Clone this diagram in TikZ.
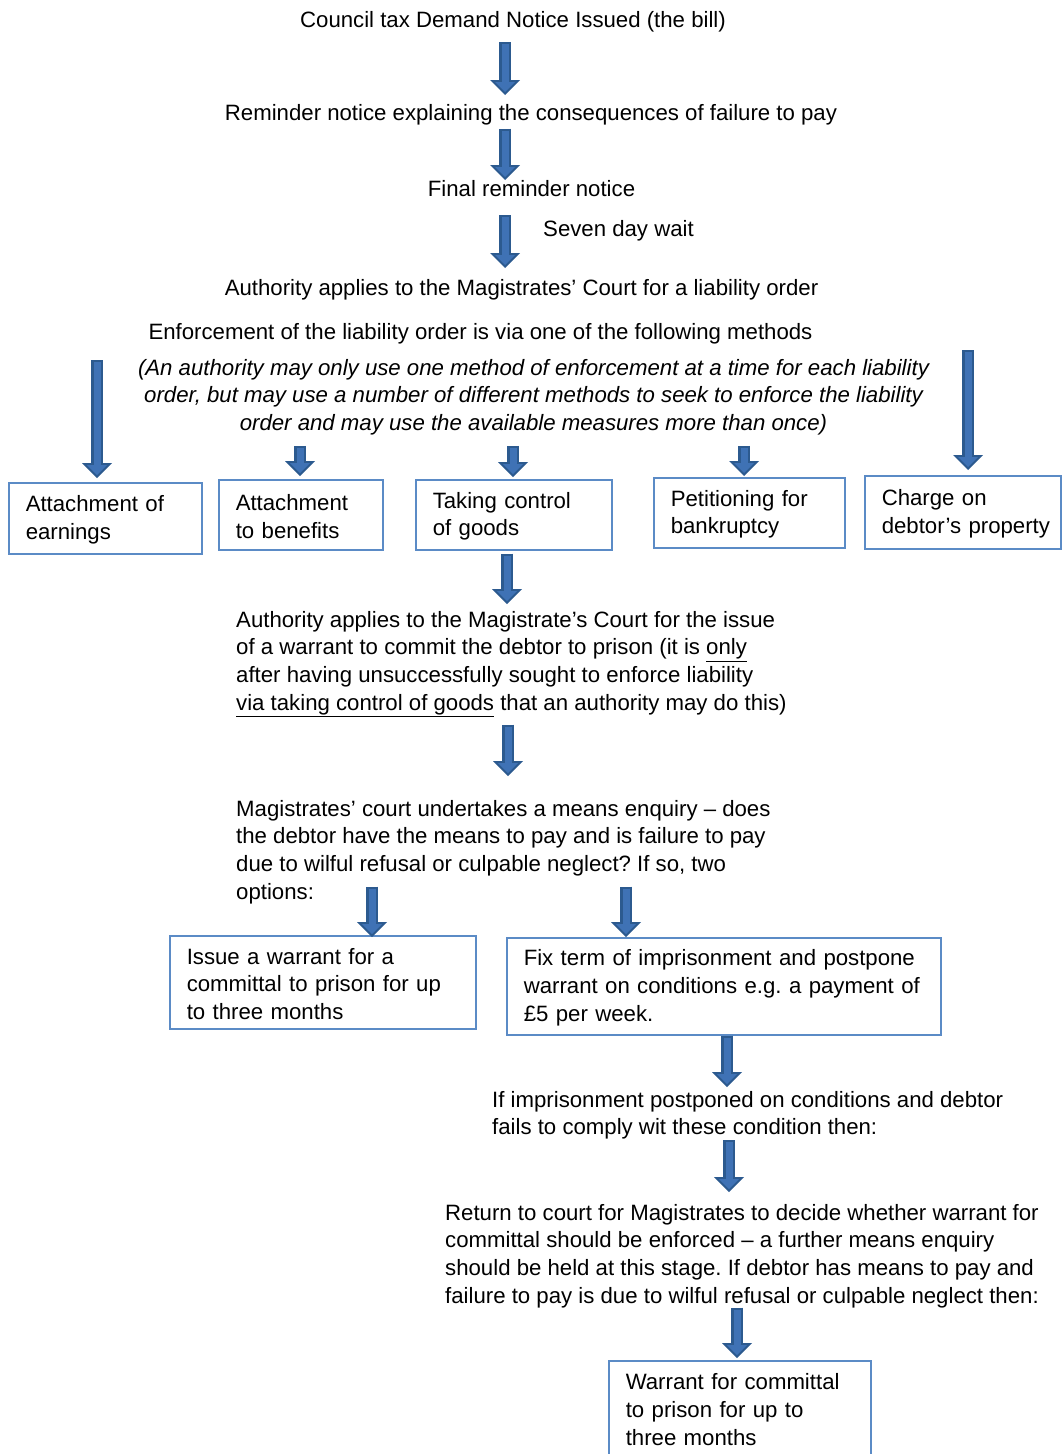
\documentclass[tikz,border=0pt]{standalone}
\usepackage{fontspec}
\setmainfont{Liberation Sans}
\usetikzlibrary{arrows.meta}
\frenchspacing

\definecolor{arrowfill}{HTML}{3F72B5}
\definecolor{arrowedge}{HTML}{2C5A8F}
\definecolor{boxedge}{HTML}{5B8BC6}

\newcommand{\mainfs}{\fontsize{22.2}{27.7}\selectfont}

\tikzset{
  txt/.style={inner sep=0pt, font=\mainfs},
  para/.style={txt, anchor=north west, align=left},
  box/.style={draw=boxedge, line width=1.5pt, anchor=north west, inner xsep=17pt, inner ysep=0pt, align=left, font=\mainfs},
  barrow/.style={draw=arrowedge, line width=12pt, -{Triangle[width=30pt,length=15pt,line width=0pt]}},
  barrowin/.style={draw=arrowfill, line width=7pt, -{Triangle[width=20pt,length=10pt,line width=0pt]}},
}

% block arrow: from, to, gap at start, gap at end
\newcommand{\flowarrow}[4]{%
  \draw[barrow, shorten <=#3, shorten >=#4] #1 -- #2;
  \draw[barrowin, shorten <=#3+2pt, shorten >=#4+3pt] #1 -- #2;}

\begin{document}
\begin{tikzpicture}[x=1pt, y=-1pt]
  \useasboundingbox (0,0) rectangle (1062,1454);

  % The first steps
  \node[txt, anchor=north] (bill) at (513,7.6) {\strut Council tax Demand Notice Issued (the bill)};
  \node[txt, anchor=north] (remind) at (531,100.6) {\strut Reminder notice explaining the consequences of failure to pay};
  \node[txt, anchor=north] (final) at (531.5,176.6) {\strut Final reminder notice};
  \node[txt, anchor=north west] (wait) at (543,216.6) {\strut Seven day wait};
  \node[txt, anchor=north] (liab) at (521.5,275.6) {\strut Authority applies to the Magistrates’ Court for a liability order};
  \node[txt, anchor=north] (enf) at (480.5,319.6) {\strut Enforcement of the liability order is via one of the following methods};
  \node[txt, anchor=north, align=center, font=\mainfs\itshape] (note) at (533.5,355.6) {\strut (An authority may only use one method of enforcement at a time for each liability\\ order, but may use a number of different methods to seek to enforce the liability\\ order and may use the available measures more than once)\strut};

  % The methods
  \node[box, text width=159pt, minimum height=71pt] (earn) at (8,482) {\strut Attachment of\\ earnings};
  \node[box, text width=130pt, minimum height=70pt] (benef) at (218,479) {\strut Attachment\\ to benefits};
  \node[box, text width=162pt, minimum height=70pt] (goods) at (415,479) {\strut Taking control\\ of goods};
  \node[box, text width=157pt, minimum height=70pt] (bankr) at (653,477) {\strut Petitioning for\\ bankruptcy};
  \node[box, text width=162pt, minimum height=73pt] (charge) at (864,475) {\strut Charge on\\ \mbox{debtor’s property}};

  % Committal
  \node[para] (warr) at (236,607.6) {\strut Authority applies to the Magistrate’s Court for the issue\\ of a warrant to commit the debtor to prison (it is \underline{only}\\ after having unsuccessfully sought to enforce liability\\ \underline{via taking control of goods} that an authority may do this)\strut};
  \node[para] (enq) at (236,796.6) {\strut Magistrates’ court undertakes a means enquiry – does\\ the debtor have the means to pay and is failure to pay\\ due to wilful refusal or culpable neglect? If so, two\\ options:\strut};
  \node[box, text width=272pt, minimum height=93pt] (issue) at (169,935) {\strut Issue a warrant for a\\ committal to prison for up\\ to three months};
  \node[box, text width=400pt, minimum height=97pt] (fix) at (506,937) {\strut Fix term of imprisonment and postpone\\ warrant on conditions e.g. a payment of\\ £5 per week.};
  \node[para] (cond) at (492,1087.6) {\strut If imprisonment postponed on conditions and debtor\\ fails to comply wit these condition then:\strut};
  \node[para] (ret) at (445,1200.6) {\strut Return to court for Magistrates to decide whether warrant for\\ committal should be enforced – a further means enquiry\\ should be held at this stage. If debtor has means to pay and\\ failure to pay is due to wilful refusal or culpable neglect then:\strut};
  \node[box, text width=228pt, inner ysep=9.6pt] (jail) at (608,1360) {\strut Warrant for committal\\ to prison for up to\\ three months\strut};

  % The arrows
  \flowarrow{(bill.south -| 505,0)}{(remind.north -| 505,0)}{6.7pt}{5.6pt}
  \flowarrow{(remind.south -| 505,0)}{(final.north -| 505,0)}{0pt}{-3.4pt}
  \flowarrow{(final.south -| 505,0)}{(liab.north -| 505,0)}{10.7pt}{7.6pt}
  \flowarrow{(note.north -| 97,0)}{(earn.north -| 97,0)}{4.4pt}{4pt}
  \flowarrow{(note.south -| 300,0)}{(benef.north -| 300,0)}{6.7pt}{3pt}
  \flowarrow{(note.south -| 513,0)}{(goods.north -| 513,0)}{6.7pt}{2pt}
  \flowarrow{(note.south -| 744,0)}{(bankr.north -| 744,0)}{6.7pt}{1pt}
  \flowarrow{(note.north -| 968,0)}{(charge.north -| 968,0)}{-5.6pt}{5pt}
  \flowarrow{(goods.south -| 507,0)}{(warr.north -| 507,0)}{3pt}{3.6pt}
  \flowarrow{(warr.south -| 508,0)}{(enq.north -| 508,0)}{5.7pt}{20.6pt}
  \flowarrow{(enq.south -| 372,0)}{(issue.north -| 372,0)}{-21.3pt}{-2pt}
  \flowarrow{(enq.south -| 626,0)}{(fix.north -| 626,0)}{-21.3pt}{0pt}
  \flowarrow{(fix.south -| 727,0)}{(cond.north -| 727,0)}{0pt}{0.6pt}
  \flowarrow{(cond.south -| 729,0)}{(ret.north -| 729,0)}{-3.3pt}{8.6pt}
  \flowarrow{(ret.south -| 737,0)}{(jail.north -| 737,0)}{-4.3pt}{2pt}
\end{tikzpicture}
\end{document}
